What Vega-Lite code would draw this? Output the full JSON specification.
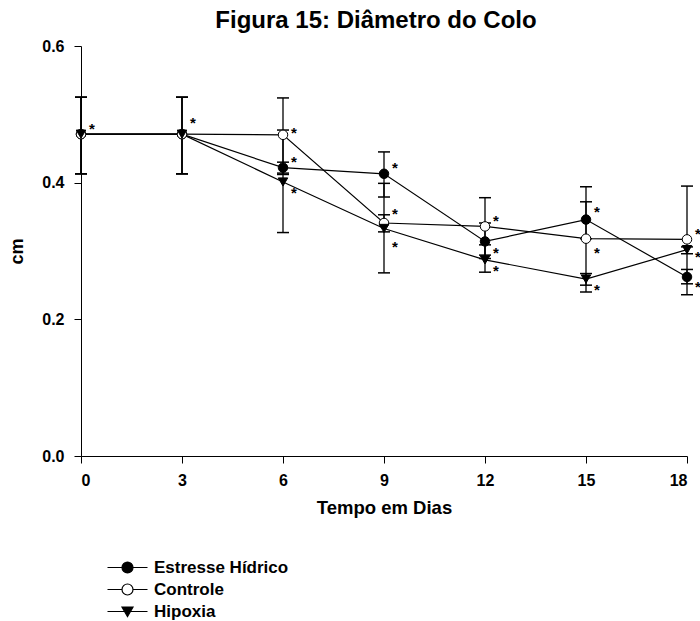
{
  "$schema": "https://vega.github.io/schema/vega-lite/v6.json",
  "autosize": {"type": "none"},
  "padding": {"left": 81, "top": 46, "right": 13, "bottom": 165},
  "width": 606,
  "height": 410,
  "background": "white",
  "title": {"text": "Figura 15: Diâmetro do Colo", "font": "Liberation Sans", "fontSize": 24, "fontWeight": "bold", "color": "black", "anchor": "middle", "baseline": "alphabetic", "offset": 19, "dy": 33, "dx": -8},
  "datasets": {
    "pts": [
      {"day": 0, "series": "Estresse Hídrico", "mean": 0.471, "lo": 0.413, "hi": 0.525},
      {"day": 0, "series": "Controle", "mean": 0.471, "lo": 0.413, "hi": 0.525},
      {"day": 0, "series": "Hipoxia", "mean": 0.471, "lo": 0.413, "hi": 0.525},
      {"day": 3, "series": "Estresse Hídrico", "mean": 0.471, "lo": 0.413, "hi": 0.525},
      {"day": 3, "series": "Controle", "mean": 0.471, "lo": 0.413, "hi": 0.525},
      {"day": 3, "series": "Hipoxia", "mean": 0.471, "lo": 0.413, "hi": 0.525},
      {"day": 6, "series": "Estresse Hídrico", "mean": 0.422, "lo": 0.414, "hi": 0.430},
      {"day": 6, "series": "Controle", "mean": 0.470, "lo": 0.412, "hi": 0.524},
      {"day": 6, "series": "Hipoxia", "mean": 0.401, "lo": 0.327, "hi": 0.477},
      {"day": 9, "series": "Estresse Hídrico", "mean": 0.413, "lo": 0.379, "hi": 0.445},
      {"day": 9, "series": "Controle", "mean": 0.341, "lo": 0.328, "hi": 0.353},
      {"day": 9, "series": "Hipoxia", "mean": 0.333, "lo": 0.268, "hi": 0.399},
      {"day": 12, "series": "Estresse Hídrico", "mean": 0.314, "lo": 0.289, "hi": 0.341},
      {"day": 12, "series": "Controle", "mean": 0.336, "lo": 0.294, "hi": 0.378},
      {"day": 12, "series": "Hipoxia", "mean": 0.287, "lo": 0.269, "hi": 0.309},
      {"day": 15, "series": "Estresse Hídrico", "mean": 0.346, "lo": 0.318, "hi": 0.372},
      {"day": 15, "series": "Controle", "mean": 0.318, "lo": 0.240, "hi": 0.394},
      {"day": 15, "series": "Hipoxia", "mean": 0.259, "lo": 0.250, "hi": 0.267},
      {"day": 18, "series": "Estresse Hídrico", "mean": 0.262, "lo": 0.252, "hi": 0.273},
      {"day": 18, "series": "Controle", "mean": 0.317, "lo": 0.236, "hi": 0.395},
      {"day": 18, "series": "Hipoxia", "mean": 0.302, "lo": 0.296, "hi": 0.306}
    ],
    "stars": [
      {"day": 0, "v": 0.483},
      {"day": 3, "v": 0.492},
      {"day": 6, "v": 0.477},
      {"day": 6, "v": 0.434},
      {"day": 6, "v": 0.389},
      {"day": 9, "v": 0.426},
      {"day": 9, "v": 0.358},
      {"day": 9, "v": 0.310},
      {"day": 12, "v": 0.349},
      {"day": 12, "v": 0.301},
      {"day": 12, "v": 0.275},
      {"day": 15, "v": 0.362},
      {"day": 15, "v": 0.301},
      {"day": 15, "v": 0.247},
      {"day": 18, "v": 0.329},
      {"day": 18, "v": 0.296},
      {"day": 18, "v": 0.251}
    ]
  },
  "encoding": {
    "x": {"field": "day", "type": "quantitative", "scale": {"domain": [0, 18], "nice": false, "zero": false},
      "axis": {"values": [0, 3, 6, 9, 12, 15, 18], "format": "d", "title": "Tempo em Dias", "labelPadding": 9, "titlePadding": 10, "titleFontSize": 18.5}}
  },
  "layer": [
    {
      "data": {"name": "pts"},
      "mark": {"type": "rule", "color": "black", "strokeWidth": 1.3},
      "encoding": {
        "y": {"field": "lo", "type": "quantitative", "scale": {"domain": [0, 0.6], "nice": false},
          "axis": {"values": [0, 0.2, 0.4, 0.6], "format": ".1f", "title": "cm", "labelPadding": 10, "titlePadding": 15}},
        "y2": {"field": "hi"}
      }
    },
    {
      "data": {"name": "pts"},
      "mark": {"type": "tick", "orient": "horizontal", "color": "black", "size": 12, "thickness": 1.5, "opacity": 1},
      "encoding": {"y": {"field": "lo", "type": "quantitative", "scale": {"domain": [0, 0.6], "nice": false}}}
    },
    {
      "data": {"name": "pts"},
      "mark": {"type": "tick", "orient": "horizontal", "color": "black", "size": 12, "thickness": 1.5, "opacity": 1},
      "encoding": {"y": {"field": "hi", "type": "quantitative", "scale": {"domain": [0, 0.6], "nice": false}}}
    },
    {
      "data": {"name": "pts"},
      "mark": {"type": "line", "color": "black", "strokeWidth": 1.2},
      "encoding": {
        "y": {"field": "mean", "type": "quantitative", "scale": {"domain": [0, 0.6], "nice": false}},
        "detail": {"field": "series"}
      }
    },
    {
      "data": {"name": "pts"},
      "mark": {"type": "point", "filled": true, "stroke": "black", "strokeWidth": 1, "size": 90, "opacity": 1},
      "encoding": {
        "y": {"field": "mean", "type": "quantitative", "scale": {"domain": [0, 0.6], "nice": false}},
        "shape": {"field": "series", "type": "nominal",
          "scale": {"domain": ["Estresse Hídrico", "Controle", "Hipoxia"], "range": ["circle", "circle", "triangle-down"]},
          "legend": null},
        "fill": {"field": "series", "type": "nominal",
          "scale": {"domain": ["Estresse Hídrico", "Controle", "Hipoxia"], "range": ["black", "white", "black"]},
          "legend": null}
      }
    },
    {
      "data": {"name": "pts"},
      "transform": [{"filter": "datum.day < 0"}],
      "mark": {"type": "point", "filled": true, "stroke": "black", "strokeWidth": 1.2},
      "encoding": {
        "y": {"field": "mean", "type": "quantitative", "scale": {"domain": [0, 0.6], "nice": false}},
        "shape": {"field": "series", "type": "nominal",
          "scale": {"domain": ["Estresse Hídrico", "Controle", "Hipoxia"],
            "range": ["M-4,0H-1.1M1.1,0H4M-1.1,0A1.1,1.1,0,1,0,1.1,0A1.1,1.1,0,1,0,-1.1,0Z", "M-4,0H-1.1M1.1,0H4M-1.1,0A1.1,1.1,0,1,0,1.1,0A1.1,1.1,0,1,0,-1.1,0Z", "M-4,0H4M-1.1,-0.9H1.1L0,1Z"]},
          "legend": {
            "title": null, "orient": "none", "legendX": 38, "legendY": 513, "padding": 0,
            "symbolSize": 100, "symbolStrokeWidth": 1.2, "symbolOpacity": 1, "rowPadding": 4, "labelOffset": 18,
            "labelFont": "Liberation Sans", "labelFontSize": 17, "labelFontWeight": "bold", "labelColor": "black"
          }},
        "fill": {"field": "series", "type": "nominal",
          "scale": {"domain": ["Estresse Hídrico", "Controle", "Hipoxia"], "range": ["black", "white", "black"]},
          "legend": {
            "title": null, "orient": "none", "legendX": 38, "legendY": 513, "padding": 0,
            "symbolSize": 100, "symbolStrokeWidth": 1.2, "symbolOpacity": 1, "rowPadding": 4, "labelOffset": 18,
            "labelFont": "Liberation Sans", "labelFontSize": 17, "labelFontWeight": "bold", "labelColor": "black"
          }}
      }
    },
    {
      "data": {"name": "stars"},
      "mark": {"type": "text", "text": "*", "font": "Liberation Sans", "fontSize": 15, "fontWeight": "bold", "color": "black", "dx": 11, "dy": 8, "baseline": "alphabetic", "align": "center"},
      "encoding": {
        "y": {"field": "v", "type": "quantitative", "scale": {"domain": [0, 0.6], "nice": false}}
      }
    }
  ],
  "resolve": {"scale": {"shape": "independent", "fill": "independent"}, "legend": {"shape": "independent", "fill": "independent"}},
  "config": {
    "view": {"stroke": null},
    "axis": {"grid": false, "domainColor": "black", "tickColor": "black", "labelColor": "black", "titleColor": "black",
      "labelFont": "Liberation Sans", "titleFont": "Liberation Sans", "labelFontWeight": "bold", "titleFontWeight": "bold",
      "labelFontSize": 16, "titleFontSize": 18, "tickSize": 7, "domainWidth": 1, "tickWidth": 1}
  }
}
